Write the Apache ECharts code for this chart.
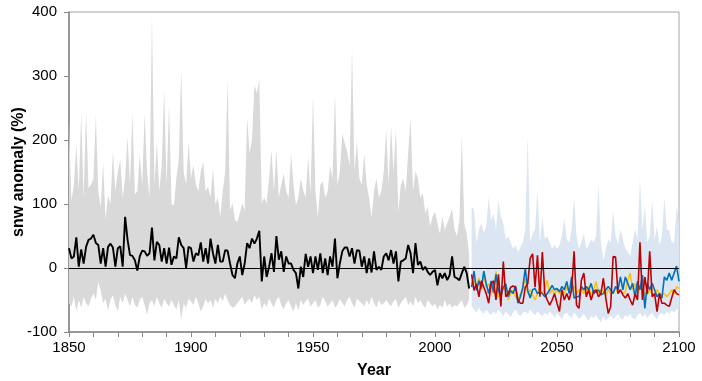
<!DOCTYPE html>
<html>
<head>
<meta charset="utf-8">
<script src="https://cdn.jsdelivr.net/npm/echarts@6/dist/echarts.min.js"></script>
<style>
  html, body { margin: 0; padding: 0; background: #fff; }
  #chart { width: 702px; height: 381px; }
</style>
</head>
<body>
<div id="chart"></div>
<script>
// historical period 1850-2014, future 2015-2100
const histStart = 1850;
const futStart = 2015;

// ensemble mean, historical
const histMean = [
  31, 15, 18, 48, 2, 29, 7, 33, 44, 46,
  52, 39, 36, 7, 31, 2, 33, 38, 32, 2,
  31, 34, 2, 80, 44, 20, 19, 12, -4, 18,
  27, 26, 19, 23, 63, 12, 41, 36, 10, 31,
  7, 32, 5, 18, 15, 48, 36, 31, 0, 33,
  31, 10, 23, 20, 40, 10, 31, 7, 46, 23,
  7, 36, 10, 10, 28, 27, 7, -11, -16, 7,
  18, -11, 7, 39, 31, 46, 38, 46, 58, -21,
  18, -14, 2, 23, -6, 50, 13, 26, -6, 18,
  7, 7, -3, -8, -32, 2, -14, 22, 2, 18,
  -8, 18, -3, 23, -8, 15, -11, 18, 2, 46,
  -16, 7, 26, 32, 32, 18, 31, 7, 28, 27,
  2, 18, -8, 15, -7, 26, -3, 2, -3, 18,
  23, 12, 28, 7, 26, -21, 10, 12, 15, 36,
  23, -8, 39, 5, 10, -3, 2, -6, -11, -6,
  -3, -27, -8, -16, -8, -19, -11, 18, -14, -16,
  -19, -8, 2, -8, -32
];

// model spread, historical (max / min)
const histHigh = [
  230, 105, 130, 192, 120, 242, 110, 244, 125, 130,
  140, 239, 120, 95, 164, 75, 114, 100, 182, 120,
  150, 169, 110, 140, 205, 130, 243, 115, 120, 177,
  130, 242, 150, 110, 393, 130, 197, 120, 160, 279,
  130, 256, 100, 98, 140, 170, 310, 150, 130, 197,
  140, 161, 130, 120, 150, 166, 120, 127, 110, 156,
  100, 110, 80, 120, 150, 294, 90, 101, 75, 72,
  85, 101, 90, 236, 180, 200, 286, 273, 295, 101,
  110, 101, 140, 184, 120, 185, 110, 130, 148, 120,
  110, 179, 130, 98, 110, 140, 122, 110, 174, 115,
  269, 120, 80, 130, 135, 110, 119, 160, 140, 274,
  130, 150, 210, 195, 182, 160, 342, 150, 197, 140,
  130, 179, 130, 110, 78, 120, 140, 110, 120, 150,
  217, 130, 223, 150, 218, 88, 130, 140, 120, 180,
  234, 120, 151, 140, 110, 117, 85, 95, 65, 80,
  88, 70, 54, 80, 60, 70, 80, 93, 60, 50,
  75, 208, 70, 54, 20
];
const histLow = [
  -55, -60, -45, -68, -50, -62, -45, -55, -60, -48,
  -40, -50, -22, -35, -55, -48, -66, -50, -42, -58,
  -68, -45, -55, -40, -50, -60, -45, -58, -62, -50,
  -45, -58, -73, -55, -50, -60, -45, -55, -62, -48,
  -55, -60, -50, -58, -65, -50, -81, -55, -62, -48,
  -52, -58, -45, -55, -68, -60, -48, -56, -50, -62,
  -48, -55, -45, -52, -40, -50, -58, -62, -60, -55,
  -50, -45, -58, -52, -48, -55, -42, -50, -45, -65,
  -55, -60, -48, -55, -62, -50, -45, -58, -65, -55,
  -50, -60, -68, -55, -66, -50, -58, -52, -48, -60,
  -55, -50, -62, -58, -45, -52, -60, -55, -50, -62,
  -58, -48, -55, -60, -50, -45, -55, -62, -48, -52,
  -55, -60, -50, -58, -45, -55, -62, -50, -58, -55,
  -50, -55, -60, -52, -48, -62, -55, -50, -45, -58,
  -52, -60, -45, -55, -50, -58, -62, -50, -55, -60,
  -55, -65, -58, -62, -50, -60, -55, -62, -58, -60,
  -55, -50, -62, -58, -50
];

// model spread, future
const futHigh = [
  96, 91, 40, 60, 70, 55, 65, 111, 75, 85,
  60, 106, 80, 70, 44, 50, 40, 30, 35, 25,
  33, 40, 60, 208, 40, 54, 60, 122, 40, 80,
  45, 50, 40, 30, 36, 30, 35, 50, 78, 45,
  40, 60, 111, 50, 30, 40, 54, 30, 35, 45,
  40, 50, 132, 40, 12, 30, 45, 40, 91, 50,
  38, 60, 45, 30, 25, 18, 40, 60, 45, 140,
  60, 96, 40, 50, 106, 45, 65, 35, 50, 111,
  60, 59, 40, 40, 96, 70
];
const futLow = [
  -60, -65, -70, -62, -68, -72, -65, -70, -74, -68,
  -72, -65, -70, -75, -68, -72, -76, -70, -65, -72,
  -75, -70, -68, -72, -65, -70, -74, -68, -72, -76,
  -70, -74, -68, -72, -78, -70, -75, -80, -72, -70,
  -75, -78, -70, -74, -80, -76, -72, -78, -82, -75,
  -78, -74, -80, -85, -76, -82, -78, -74, -80, -76,
  -72, -78, -80, -74, -76, -72, -78, -80, -74, -70,
  -76, -72, -78, -74, -70, -76, -80, -72, -70, -74,
  -68, -72, -66, -70, -64, -68
];

// scenario means, future
const futYellow = [
  -25, -20, -30, -15, -35, -10, -30, -25, -35, -40,
  -5, -45, -40, -30, -35, -50, -40, -35, -45, -50,
  -40, -35, -15, -40, -34, -42, -50, -40, -29, -40,
  -32, -19, -40, -34, -40, -34, -40, -34, -40, -29,
  -37, -34, -29, -40, -34, -32, -40, -34, -29, -42,
  -34, -21, -40, -34, -37, -42, -34, -40, -37, -32,
  -40, -34, -40, -37, -19, -8, -34, -24, -40, -29,
  -34, -40, -42, -34, -40, -42, -34, -40, -42, -40,
  -45, -40, -34, -40, -29, -32
];
const futBlue = [
  -30, -5, -35, -20, -32, -5, -25, -40, -20, -38,
  -10, -35, -45, -30, -25, -45, -35, -40, -28, -55,
  -45, -30, 0, -35, -47, -34, -32, -40, -37, -40,
  -45, -40, -34, -27, -34, -32, -37, -29, -34, -21,
  -40, -14, -47, -45, -45, -29, -34, -29, -34, -24,
  -40, -37, -34, -42, -40, -34, -29, -34, -40, -29,
  -34, -14, -34, -14, -24, -34, -24, -45, -21, -34,
  -11, -63, -24, -34, -24, -34, -45, -40, -47, -14,
  -19, -8, -19, -8, 3, -21
];
const futRed = [
  -10, -35, -25, -45, -20, -30, -40, -55, -25, -20,
  -50, -10, -60, 10, -45, -40, -30, -28, -30, -50,
  -55, -55, -30, -25, 15, 22, -30, 20, -45, 25,
  -40, -50, -58, -50, -40, -55, -68, -34, -50, -40,
  -50, -34, 26, -58, -63, -19, -8, -45, -34, -50,
  -37, -34, -45, -40, -16, -47, -71, -60, 18, 17,
  -40, -34, -42, -47, -40, -50, -58, -40, -50, 40,
  -50, -14, -40, 26, -45, -40, -68, -40, -55, -55,
  -58, -60, -47, -34, -40, -42
];

const xTicks = [1850, 1900, 1950, 2000, 2050, 2100];
const yTicks = [-100, 0, 100, 200, 300, 400];

const histYears = histMean.map((_, i) => histStart + i);
const futYears = futRed.map((_, i) => futStart + i);
const pairs = (xs, ys) => ys.map((v, i) => [xs[i], v]);

const font = '"Liberation Sans", Arial, sans-serif';

function band(years, hi, lo, color) {
  return {
    type: 'custom',
    clip: true,
    silent: true,
    data: [[years[0], 0]],
    renderItem: function (params, api) {
      if (params.dataIndex !== 0) return;
      const pts = [];
      for (let i = 0; i < years.length; i++) pts.push(api.coord([years[i], hi[i]]));
      for (let i = years.length - 1; i >= 0; i--) pts.push(api.coord([years[i], lo[i]]));
      return { type: 'polygon', shape: { points: pts }, style: { fill: color } };
    }
  };
}

function line(xs, ys, color, width) {
  return {
    type: 'line',
    data: pairs(xs, ys),
    symbol: 'none',
    lineStyle: { color: color, width: width },
    silent: true
  };
}

const chart = echarts.init(document.getElementById('chart'));

const meanLine = line(histYears, histMean, '#000000', 1.9);
meanLine.markLine = {
  silent: true,
  symbol: 'none',
  label: { show: false },
  lineStyle: { color: '#000', width: 1, type: 'solid' },
  data: [{ yAxis: 0 }]
};

chart.setOption({
  animation: false,
  grid: {
    left: 69, right: 23, top: 12, bottom: 49,
    outerBoundsMode: 'none',
    show: true, borderColor: '#a6a6a6', borderWidth: 1
  },
  xAxis: {
    type: 'value',
    min: 1850, max: 2100, interval: 10,
    axisLine: { show: true, onZero: false, lineStyle: { color: '#868686', width: 1.5 } },
    axisTick: { show: true, length: 5, lineStyle: { color: '#868686' } },
    axisLabel: {
      fontSize: 15, color: '#000', fontFamily: font, margin: 8,
      formatter: v => (xTicks.includes(v) ? String(v) : '')
    },
    splitLine: { show: false },
    name: 'Year',
    nameLocation: 'middle',
    nameGap: 31,
    nameTextStyle: { fontSize: 16, fontWeight: 'bold', color: '#000', fontFamily: font }
  },
  yAxis: {
    type: 'value',
    min: -100, max: 400, interval: 100,
    axisLine: { show: true, onZero: false, lineStyle: { color: '#868686', width: 1.5 } },
    axisTick: { show: true, length: 5, lineStyle: { color: '#868686' } },
    axisLabel: {
      fontSize: 15, color: '#000', fontFamily: font, margin: 12,
      formatter: v => (yTicks.includes(v) ? String(v) : '')
    },
    splitLine: { show: false },
    name: 'snw anomaly (%)',
    nameLocation: 'middle',
    nameGap: 42,
    nameMoveOverlap: false,
    nameTextStyle: { fontSize: 16, fontWeight: 'bold', color: '#000', fontFamily: font }
  },
  series: [
    band(histYears, histHigh, histLow, '#d9d9d9'),
    band(futYears, futHigh, futLow, '#dce6f2'),
    meanLine,
    line(futYears, futYellow, '#ffc000', 1.5),
    line(futYears, futBlue, '#0070c0', 1.6),
    line(futYears, futRed, '#c00000', 1.6)
  ]
});
</script>
</body>
</html>
